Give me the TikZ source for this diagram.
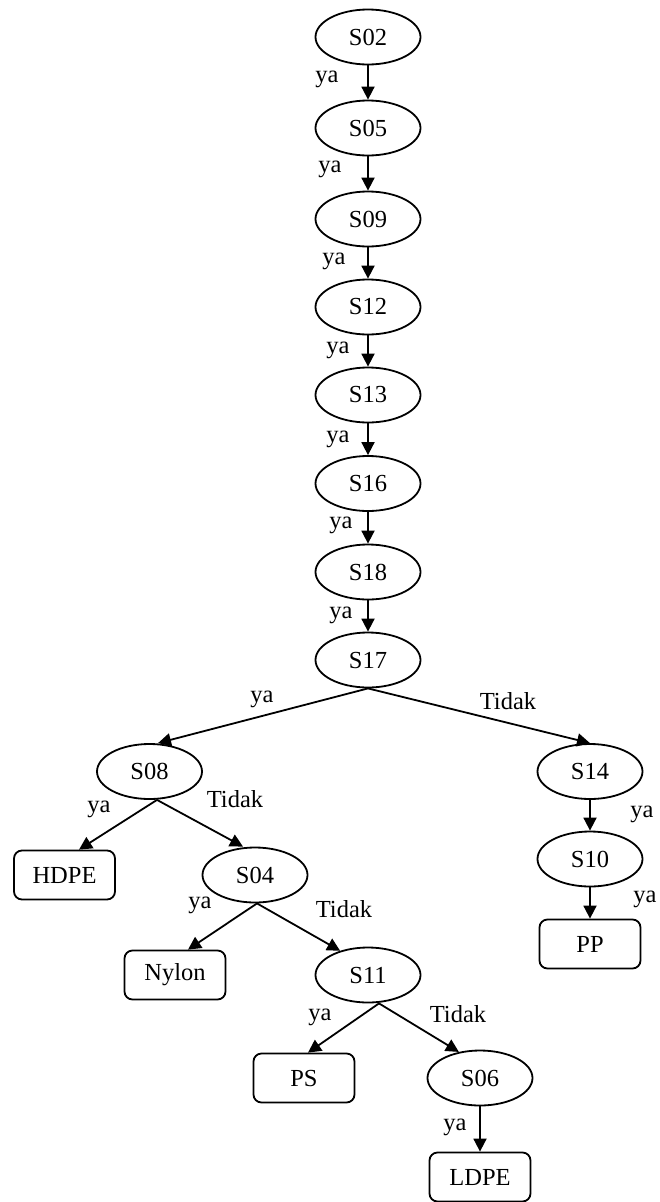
\documentclass[tikz,border=0pt]{standalone}
\usepackage{fontspec}
\setmainfont{Liberation Serif}
\usetikzlibrary{shapes.geometric,arrows.meta}
\begin{document}
\begin{tikzpicture}[x=1pt,y=-1pt,
  every node/.style={font=\fontsize{24.5}{28}\selectfont},
  qnode/.style={draw,ellipse,line width=1.8pt,inner sep=0pt,minimum width=105pt,minimum height=55pt},
  leaf/.style={draw,rectangle,rounded corners=8pt,line width=1.8pt,inner sep=0pt,minimum width=101pt,minimum height=49pt},
  lbl/.style={inner sep=0pt},
  link/.style={line width=1.8pt,-{Triangle[length=13pt,width=13pt]}}]
\useasboundingbox (0,0) rectangle (659,1202);
% main chain of questions
\node[qnode] (S02) at (368,37) {S02};
\node[qnode] (S05) at (368,128) {S05};
\node[qnode] (S09) at (368,219) {S09};
\node[qnode] (S12) at (368,307) {S12};
\node[qnode] (S13) at (368,395) {S13};
\node[qnode] (S16) at (368,483.5) {S16};
\node[qnode] (S18) at (368,572) {S18};
\node[qnode] (S17) at (368,660) {S17};
% left branch
\node[qnode] (S08) at (149.5,771.5) {S08};
\node[leaf]  (HDPE) at (64.5,875) {HDPE};
\node[qnode] (S04) at (255,875) {S04};
\node[leaf]  (Nylon) at (175,975) {Nylon};
\node[qnode] (S11) at (368,975) {S11};
\node[leaf]  (PS) at (304,1078) {PS};
\node[qnode] (S06) at (480,1078) {S06};
\node[leaf]  (LDPE) at (480,1177) {LDPE};
% right branch
\node[qnode] (S14) at (590,771.5) {S14};
\node[qnode] (S10) at (590,859) {S10};
\node[leaf]  (PP) at (590,944) {PP};
% connectors
\draw[link] (S02.south) -- (S05.north);
\draw[link] (S05.south) -- (S09.north);
\draw[link] (S09.south) -- (S12.north);
\draw[link] (S12.south) -- (S13.north);
\draw[link] (S13.south) -- (S16.north);
\draw[link] (S16.south) -- (S18.north);
\draw[link] (S18.south) -- (S17.north);
\draw[link] (S17.south) -- ([xshift=8.5pt]S08.north);
\draw[link] (S17.south) -- (S14.north);
\draw[link] ([xshift=7.5pt]S08.south) -- ([xshift=14.5pt]HDPE.north);
\draw[link] ([xshift=7.5pt]S08.south) -- ([xshift=-12pt]S04.north);
\draw[link] ([xshift=2pt]S04.south) -- ([xshift=13pt]Nylon.north);
\draw[link] ([xshift=2pt]S04.south) -- (S11.139);
\draw[link] ([xshift=11pt]S11.south) -- ([xshift=4pt]PS.north);
\draw[link] ([xshift=11pt]S11.south) -- (S06.129);
\draw[link] (S06.south) -- (LDPE.north);
\draw[link] (S14.south) -- (S10.north);
\draw[link] (S10.south) -- (PP.north);
% edge labels
\node[lbl] (l1) at (327,79.5) {ya};
\node[lbl] (l2) at (330,169.5) {ya};
\node[lbl] (l3) at (334,261.5) {ya};
\node[lbl] (l4) at (338,350.5) {ya};
\node[lbl] (l5) at (338,439.5) {ya};
\node[lbl] (l6) at (341,525.5) {ya};
\node[lbl] (l7) at (341,615.5) {ya};
\node[lbl] (l8) at (262,699.5) {ya};
\node[lbl] (l9) at (508,701) {Tidak};
\node[lbl] (l10) at (99,809) {ya};
\node[lbl] (l11) at (235,799) {Tidak};
\node[lbl] (l12) at (200,905) {ya};
\node[lbl] (l13) at (344,909) {Tidak};
\node[lbl] (l14) at (320,1017) {ya};
\node[lbl] (l15) at (458,1014) {Tidak};
\node[lbl] (l16) at (455,1127) {ya};
\node[lbl] (l17) at (642,814) {ya};
\node[lbl] (l18) at (645,899) {ya};
\end{tikzpicture}
\end{document}
